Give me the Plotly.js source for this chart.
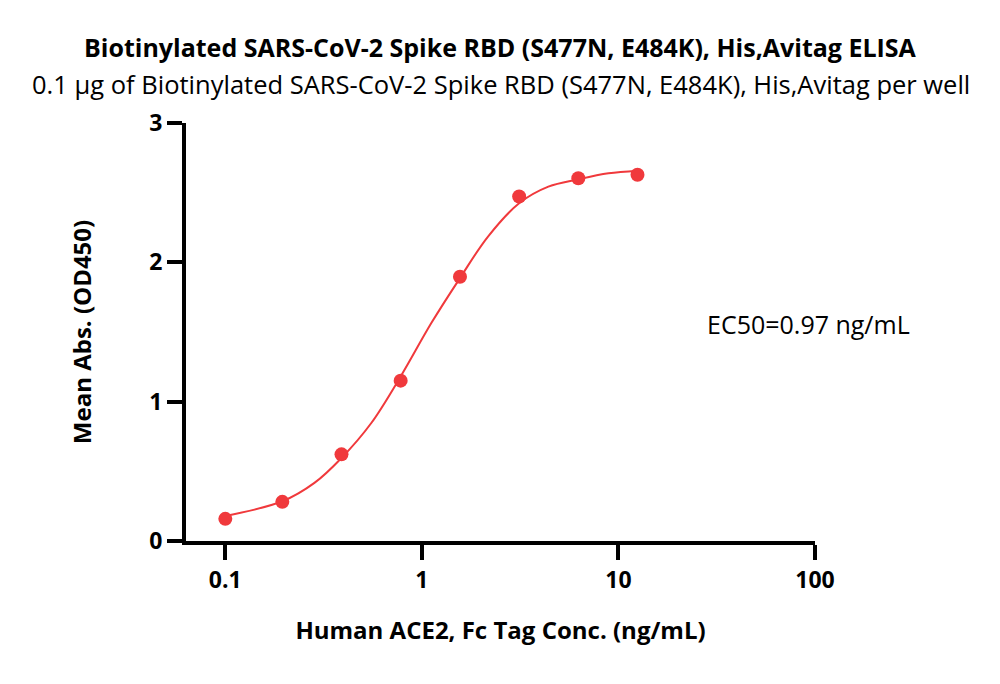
<!DOCTYPE html>
<html>
<head>
<meta charset="utf-8">
<script src="https://cdn.plot.ly/plotly-3.0.1.min.js"></script>
<style>html,body{margin:0;padding:0;background:#fff;}#chart{width:1000px;height:684px;}</style>
</head>
<body>
<div id="chart"></div>
<script>
// Measured points
const concentration = [0.1, 0.195, 0.39, 0.78, 1.5625, 3.125, 6.25, 12.5];
const meanAbs = [0.159, 0.281, 0.622, 1.151, 1.896, 2.472, 2.604, 2.629];
// Fitted curve
const curveX = [0.1, 0.195, 0.284, 0.39, 0.553, 0.78, 1.117, 1.5625, 2.17, 3.125, 4.4, 6.25, 8.9, 12.5];
const curveY = [0.18, 0.285, 0.417, 0.596, 0.847, 1.181, 1.564, 1.887, 2.185, 2.424, 2.543, 2.596, 2.639, 2.658];
const xTickVals = [0.1, 1, 10, 100];
const xTickText = ['0.1', '1', '10', '100'];
const yTickVals = [0, 1, 2, 3];
const titleText = 'Biotinylated SARS-CoV-2 Spike RBD (S477N, E484K), His,Avitag ELISA';
const subtitleText = '0.1 µg of Biotinylated SARS-CoV-2 Spike RBD (S477N, E484K), His,Avitag per well';
const xTitle = 'Human ACE2, Fc Tag Conc. (ng/mL)';
const yTitle = 'Mean Abs. (OD450)';
const ec50Text = 'EC50=0.97 ng/mL';

const red = '#F0393C';
const font = 'Open Sans, Noto Sans, sans-serif';

const traces = [
  {x: curveX, y: curveY, type: 'scatter', mode: 'lines',
   line: {color: red, width: 2, shape: 'spline', smoothing: 1}, hoverinfo: 'skip'},
  {x: concentration, y: meanAbs, type: 'scatter', mode: 'markers',
   marker: {color: red, size: 14}}
];

const layout = {
  width: 1000, height: 684,
  margin: {l: 186, r: 185, t: 123, b: 143},
  paper_bgcolor: '#fff', plot_bgcolor: '#fff',
  showlegend: false,
  font: {family: font, color: '#000'},
  xaxis: {
    type: 'log', range: [-1.2, 2.0],
    tickvals: xTickVals, ticktext: xTickText,
    ticks: 'outside', ticklen: 15, tickwidth: 4, tickcolor: '#000',
    showline: true, linewidth: 4, linecolor: '#000',
    showgrid: false, zeroline: false,
    tickfont: {family: font, size: 23, color: '#000', weight: 'bold'},
    title: {text: xTitle, font: {family: font, size: 24, color: '#000', weight: 'bold'}, standoff: 30}
  },
  yaxis: {
    range: [0, 3],
    tickvals: yTickVals,
    ticks: 'outside', ticklen: 15, tickwidth: 4, tickcolor: '#000',
    showline: true, linewidth: 4, linecolor: '#000',
    showgrid: false, zeroline: false,
    tickfont: {family: font, size: 23, color: '#000', weight: 'bold'},
    title: {text: yTitle, font: {family: font, size: 24, color: '#000', weight: 'bold'}, standoff: 52}
  },
  annotations: [
    {text: '<b>' + titleText + '</b>', xref: 'paper', yref: 'paper', x: 0.5, y: 1, xanchor: 'center', yanchor: 'middle',
     yshift: 76, showarrow: false, font: {family: font, size: 25, color: '#000'}},
    {text: subtitleText, xref: 'paper', yref: 'paper', x: 0.5, y: 1, xanchor: 'center', yanchor: 'middle',
     yshift: 39, showarrow: false, font: {family: font, size: 25.5, color: '#000'}},
    {text: ec50Text, xref: 'paper', yref: 'paper', x: 1.155, y: 0.52, xanchor: 'right', yanchor: 'middle',
     showarrow: false, font: {family: font, size: 25, color: '#000'}}
  ]
};

Plotly.newPlot('chart', traces, layout, {displayModeBar: false, staticPlot: true});
</script>
</body>
</html>
